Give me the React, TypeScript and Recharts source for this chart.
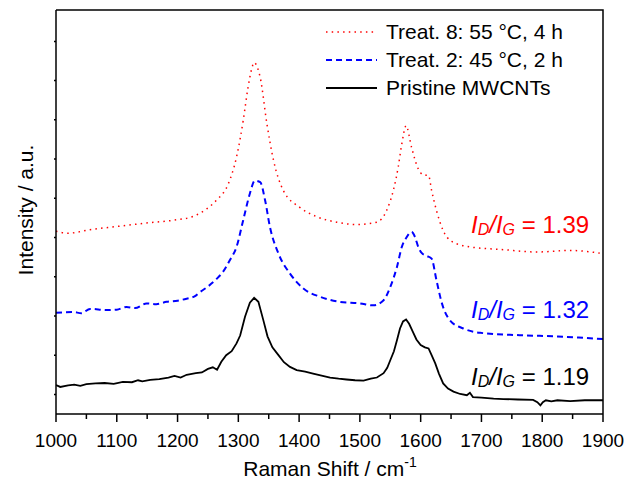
import React from "react";
import { LineChart, Line, XAxis, YAxis } from "recharts";

// Raman shift (cm-1) and intensity
const shiftPristine = [1000, 1007, 1020, 1030, 1040, 1050, 1065, 1080, 1095, 1110, 1125, 1135, 1142, 1155, 1170, 1185, 1195, 1205, 1215, 1230, 1240, 1250, 1258, 1265, 1272, 1280, 1289, 1297, 1303, 1311, 1319, 1326, 1333, 1341, 1348, 1356, 1366, 1375, 1385, 1396, 1410, 1423, 1437, 1451, 1465, 1478, 1492, 1506, 1518, 1528, 1539, 1545, 1550, 1556, 1561, 1566, 1571, 1576, 1581, 1587, 1593, 1600, 1607, 1613, 1618, 1624, 1630, 1637, 1645, 1654, 1665, 1676, 1681, 1686, 1700, 1720, 1736, 1760, 1785, 1792, 1797, 1801, 1806, 1815, 1825, 1846, 1870, 1900];
const intPristine = [7.4, 6.9, 7.3, 7.5, 7.2, 7.6, 7.8, 7.9, 7.7, 8.2, 8.1, 8.6, 8.3, 8.7, 8.9, 9.3, 9.7, 9.3, 10.0, 10.4, 10.6, 11.5, 11.9, 11.3, 13.3, 15.0, 16.0, 18.0, 20.0, 24.8, 28.4, 29.6, 28.6, 24.0, 19.8, 17.0, 15.0, 13.2, 12.0, 11.2, 10.8, 10.3, 9.8, 9.3, 9.0, 8.8, 8.6, 8.5, 9.0, 9.3, 10.4, 11.8, 13.7, 16.0, 18.8, 21.8, 23.6, 24.1, 23.0, 21.0, 19.0, 17.6, 17.0, 16.7, 15.0, 12.9, 10.3, 7.8, 6.5, 5.7, 5.1, 4.8, 5.4, 4.3, 4.2, 3.9, 3.8, 3.7, 3.6, 3.0, 2.2, 3.0, 3.5, 3.2, 3.5, 3.3, 3.5, 3.5];

const shiftTreat2 = [1000, 1028, 1042, 1056, 1083, 1100, 1116, 1130, 1149, 1165, 1182, 1200, 1215, 1228, 1237, 1250, 1264, 1275, 1286, 1297, 1308, 1319, 1327, 1336, 1344, 1352, 1366, 1385, 1407, 1434, 1467, 1500, 1522, 1539, 1550, 1561, 1569, 1577, 1585, 1591, 1596, 1602, 1610, 1618, 1626, 1635, 1648, 1670, 1698, 1763, 1818, 1860, 1900];
const intTreat2 = [25.8, 26.0, 25.7, 26.8, 26.5, 26.6, 27.3, 27.0, 28.2, 28.0, 28.6, 28.9, 29.4, 30.0, 31.1, 32.5, 34.4, 36.3, 39.2, 42.6, 49.4, 56.2, 59.5, 59.1, 54.5, 47.7, 40.9, 35.8, 32.0, 29.9, 28.6, 28.2, 27.7, 29.0, 32.4, 37.5, 42.6, 45.1, 46.4, 45.0, 42.6, 41.0, 40.3, 39.6, 34.1, 28.2, 23.9, 21.8, 20.7, 20.1, 19.8, 19.5, 19.1];

const shiftTreat8 = [1000, 1020, 1056, 1100, 1149, 1193, 1226, 1248, 1264, 1283, 1297, 1308, 1316, 1322, 1326, 1331, 1336, 1347, 1358, 1374, 1401, 1429, 1462, 1495, 1528, 1544, 1555, 1563, 1569, 1576, 1585, 1596, 1604, 1613, 1618, 1626, 1637, 1651, 1681, 1736, 1791, 1846, 1900];
const intTreat8 = [46.6, 46.1, 47.0, 47.8, 48.7, 49.4, 50.4, 52.3, 54.5, 58.5, 65.5, 74.8, 83.3, 88.0, 89.6, 88.5, 85.8, 74.0, 64.6, 57.0, 52.7, 50.3, 48.9, 48.3, 48.9, 51.9, 57.0, 62.9, 68.9, 73.5, 68.0, 62.5, 61.0, 60.8, 57.0, 51.9, 46.8, 44.0, 42.6, 41.9, 41.3, 41.7, 40.9];

const xTicks = [1000, 1050, 1100, 1150, 1200, 1250, 1300, 1350, 1400, 1450, 1500, 1550, 1600, 1650, 1700, 1750, 1800, 1850, 1900];
const yTicks = [5, 15, 25, 35, 45, 55, 65, 75, 85, 95];

const seriesNames = ["Treat. 8: 55 °C, 4 h", "Treat. 2: 45 °C, 2 h", "Pristine MWCNTs"];
const ratioLabels = ["1.39", "1.32", "1.19"];

const zip = (xs: number[], ys: number[]) => xs.map((x, i) => ({ x, y: ys[i] }));

const pristine = zip(shiftPristine, intPristine);
const treat2 = zip(shiftTreat2, intTreat2);
const treat8 = zip(shiftTreat8, intTreat8);

const FONT = "'Liberation Sans', Arial, sans-serif";
const colors = ["#ff0000", "#0000ff", "#000000"];
const dashes = ["1.5 4.2", "6 4", undefined];
const widths = [1.5, 2, 1.8];

// bottom edge of the plot (page px)
const BOTTOM = 414;

const XTick = (props: any) => {
  const { x, payload } = props;
  const v = payload.value as number;
  const major = v % 100 === 0;
  return (
    <g>
      <line x1={x} x2={x} y1={BOTTOM} y2={BOTTOM + (major ? 8 : 5)} stroke="#000" strokeWidth={1.5} />
      {major && (
        <text x={x} y={447} textAnchor="middle" fontFamily={FONT} fontSize={19} fill="#000">
          {v}
        </text>
      )}
    </g>
  );
};

const Ratio = ({ x, y, color, value }: { x: number; y: number; color: string; value: string }) => (
  <text x={x} y={y} fill={color} fontFamily={FONT} fontSize={24}>
    <tspan fontStyle="italic">I</tspan>
    <tspan fontStyle="italic" fontSize={16} dy={2}>D</tspan>
    <tspan fontStyle="italic" dy={-2}>/I</tspan>
    <tspan fontStyle="italic" fontSize={16} dy={2}>G</tspan>
    <tspan dy={-2}>{" = " + value}</tspan>
  </text>
);

const App = () => {
  return (
    <div style={{ position: "fixed", left: 0, top: 0, width: 625, height: 481, background: "#fff" }}>
      <LineChart width={625} height={481} margin={{ top: 10, right: 22, bottom: 27, left: 0 }}>
        <XAxis
          dataKey="x"
          type="number"
          domain={[1000, 1900]}
          ticks={xTicks}
          interval={0}
          allowDataOverflow
          height={40}
          stroke="#000"
          strokeWidth={1.5}
          tickLine={false}
          tick={<XTick />}
        />
        <YAxis
          type="number"
          domain={[0, 103]}
          ticks={yTicks}
          allowDataOverflow
          width={56}
          stroke="#000"
          strokeWidth={1.5}
          tickSize={2}
          tickFormatter={() => ""}
        />
        <Line data={treat8} dataKey="y" type="monotone" stroke={colors[0]} strokeWidth={widths[0]} strokeDasharray={dashes[0]} dot={false} isAnimationActive={false} />
        <Line data={treat2} dataKey="y" type="monotone" stroke={colors[1]} strokeWidth={widths[1]} strokeDasharray={dashes[1]} dot={false} isAnimationActive={false} />
        <Line data={pristine} dataKey="y" type="linear" stroke={colors[2]} strokeWidth={widths[2]} dot={false} isAnimationActive={false} />
      </LineChart>
      <svg width={625} height={481} style={{ position: "absolute", left: 0, top: 0, pointerEvents: "none" }}>
        <polyline points="56,10 603,10 603,414" fill="none" stroke="#000" strokeWidth={1.5} />
        {seriesNames.map((name, i) => (
          <g key={name}>
            <line x1={326} x2={377} y1={32 + i * 28} y2={32 + i * 28} stroke={colors[i]} strokeWidth={widths[i]} strokeDasharray={dashes[i]} />
            <text x={386} y={39 + i * 28} fontFamily={FONT} fontSize={21} fill="#000">{name}</text>
          </g>
        ))}
        <Ratio x={471} y={233} color={colors[0]} value={ratioLabels[0]} />
        <Ratio x={471} y={318} color={colors[1]} value={ratioLabels[1]} />
        <Ratio x={471} y={385} color={colors[2]} value={ratioLabels[2]} />
        <text x={330} y={476} textAnchor="middle" fontFamily={FONT} fontSize={21} fill="#000">
          Raman Shift / cm<tspan fontSize={14} dy={-9}>-1</tspan>
        </text>
        <text transform="translate(33,210) rotate(-90)" textAnchor="middle" fontFamily={FONT} fontSize={21} fill="#000">
          Intensity / a.u.
        </text>
      </svg>
    </div>
  );
};

export default App;
